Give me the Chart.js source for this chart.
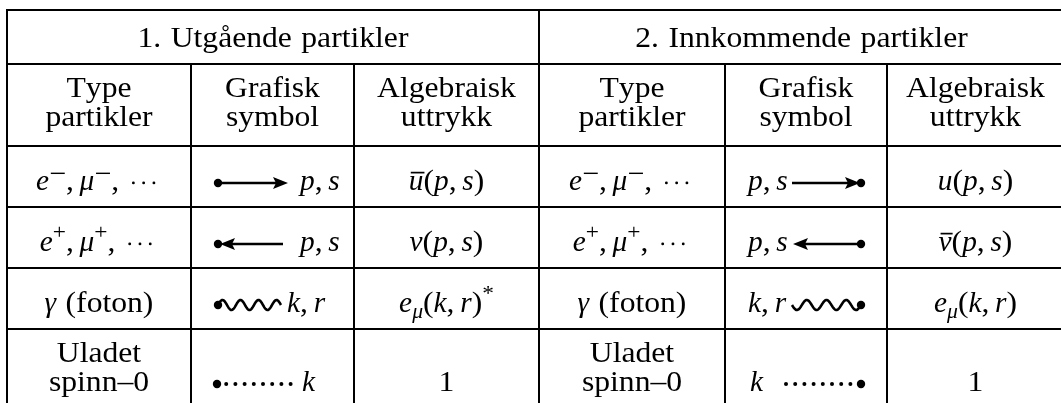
<!DOCTYPE html>
<html><head><meta charset="utf-8">
<script src="https://cdn.jsdelivr.net/npm/chart.js@4/dist/chart.umd.min.js"></script>
<style>html,body{margin:0;padding:0;background:#fff;}canvas{display:block}</style>
</head><body>
<canvas id="c" width="1061" height="403"></canvas>
<script>
// ---------- DATA ----------
const sectionTitles = ["1. Utgående partikler", "2. Innkommende partikler"];
const columnHeads = [["Type", "partikler"], ["Grafisk", "symbol"], ["Algebraisk", "uttrykk"]];
const particleTypes = ["$e^{−}, \\mu^{−}, \\cdots$", "$e^{+}, \\mu^{+}, \\cdots$", "$\\gamma$ (foton)", "Uladet\nspinn–0"];
const symbolKinds = ["fermion", "antifermion", "photon", "scalar"];
const momentumLabels = ["$p, s$", "$p, s$", "$k, r$", "$k$"];
const outgoingFactors = ["$\\bar{u}(p, s)$", "$v(p, s)$", "$e_{\\mu}(k, r)^{*}$", "$1$"];
const incomingFactors = ["$u(p, s)$", "$\\bar{v}(p, s)$", "$e_{\\mu}(k, r)$", "$1$"];

// ---------- LAYOUT ----------
const colEdges = [7, 191, 354, 539, 725, 887, 1064];
const rowEdges = [10, 64, 146, 207, 268, 329, 403];
const FAMILY = '"Liberation Serif", "Times New Roman", serif';
const FS = 28.5;      // font size
const SX_R = 1.11;    // horizontal stretch for upright text (Computer Modern is wider)
const SX_I = 1.03;    // stretch for italic (math) text
const GRID_W = 2;

const CMDS = { mu: "μ", gamma: "γ", cdots: "···" };

function parseRich(str) {
  const out = [];
  let math = false;
  function readGroup(s, i) {
    if (s[i] === "{") {
      let depth = 1, j = i + 1;
      while (j < s.length && depth) { if (s[j] === "{") depth++; else if (s[j] === "}") depth--; j++; }
      return [s.slice(i + 1, j - 1), j];
    }
    return [s[i], i + 1];
  }
  function walk(s, level, bar) {
    let i = 0;
    while (i < s.length) {
      const c = s[i];
      if (c === "$") { math = !math; i++; continue; }
      if (c === "\\") {
        let j = i + 1; while (j < s.length && /[a-zA-Z]/.test(s[j])) j++;
        const name = s.slice(i + 1, j);
        if (name === "bar") { const [g, k] = readGroup(s, j); walk(g, level, true); i = k; continue; }
        const sym = CMDS[name] || name;
        out.push({ t: sym, it: math && name !== "cdots", lv: level, bar, cd: name === "cdots" });
        i = j; continue;
      }
      if (math && (c === "^" || c === "_")) {
        const [g, k] = readGroup(s, i + 1);
        walk(g, c === "^" ? 1 : -1, bar); i = k; continue;
      }
      out.push({ t: c, it: math && /[a-zA-Z]/.test(c), lv: level, bar, sp: c === " " ? (math ? "thin" : "word") : null });
      i++;
    }
  }
  walk(str, 0, false);
  return out;
}

function fontFor(seg, size) {
  const fs = seg.lv ? size * 0.74 : size;
  return (seg.it ? "italic " : "") + fs + "px " + FAMILY;
}
function sxFor(seg) { return seg.it ? SX_I : SX_R; }

function segWidth(ctx, seg, size) {
  ctx.font = fontFor(seg, size);
  if (seg.cd) return size * 1.3;
  if (seg.sp === "thin") return size * 0.2;
  if (seg.sp === "word") return size * 0.33;
  if (seg.t === "−") return size * 0.74 * 0.8;
  return ctx.measureText(seg.t).width * sxFor(seg);
}

function richWidth(ctx, segs, size) {
  return segs.reduce((a, s) => a + segWidth(ctx, s, size), 0);
}

function drawRich(ctx, str, x, baseline, align, size) {
  size = size || FS;
  const segs = parseRich(str);
  const w = richWidth(ctx, segs, size);
  let cx = align === "center" ? x - w / 2 : x;
  ctx.fillStyle = "#000";
  ctx.textBaseline = "alphabetic";
  ctx.textAlign = "left";
  for (const s of segs) {
    const sw = segWidth(ctx, s, size);
    const dy = s.lv === 1 ? -0.41 * size : s.lv === -1 ? 0.2 * size : 0;
    if (s.cd) {
      for (let k = 0; k < 3; k++) {
        ctx.beginPath();
        ctx.arc(cx + size * (0.3 + 0.36 * k), baseline - 0.25 * size, size * 0.05, 0, Math.PI * 2);
        ctx.fill();
      }
    } else if (s.t === "−") {
      const fs = size * 0.74;
      ctx.fillRect(cx + fs * 0.08, baseline + dy - fs * 0.27, fs * 0.66, Math.max(1.4, fs * 0.065));
    } else if (!s.sp) {
      ctx.font = fontFor(s, size);
      ctx.save();
      ctx.translate(cx, baseline + dy);
      ctx.scale(sxFor(s), 1);
      ctx.fillText(s.t, 0, 0);
      ctx.restore();
    }
    if (s.bar) {
      ctx.fillRect(cx + 2, baseline - 0.64 * size, sw - 1, 1.7);
    }
    cx += sw;
  }
  return w;
}

function dot(ctx, x, y, r) { ctx.beginPath(); ctx.arc(x, y, r, 0, Math.PI * 2); ctx.fill(); }
function head(ctx, tipX, y, dir) {
  const L = 15, H = 6;
  ctx.beginPath();
  ctx.moveTo(tipX, y);
  ctx.lineTo(tipX - dir * L, y - H);
  ctx.lineTo(tipX - dir * L + dir * 3, y);
  ctx.lineTo(tipX - dir * L, y + H);
  ctx.closePath();
  ctx.fill();
}
function wave(ctx, x0, x1, y, phase) {
  const periods = 3.5, A = 5;
  ctx.beginPath();
  const n = 160;
  for (let i = 0; i <= n; i++) {
    const t = i / n;
    const x = x0 + (x1 - x0) * t;
    const yy = y - phase * A * Math.sin(Math.PI * 2 * periods * t);
    if (i === 0) ctx.moveTo(x, yy); else ctx.lineTo(x, yy);
  }
  ctx.stroke();
}

const DOT_R = 4.2, SMALL_R = 2.0;

// draw a propagator symbol for kind, inside a cell starting at L, at axis y
function drawSymbol(ctx, kind, incoming, L, y, label, baseline, px) {
  ctx.fillStyle = "#000"; ctx.strokeStyle = "#000"; ctx.lineWidth = 2.6; ctx.lineCap = "butt";
  if (!incoming) {
    const d0 = px(L + 27);
    if (kind === "fermion") {
      const e = px(L + 97);
      ctx.beginPath(); ctx.moveTo(d0, y); ctx.lineTo(e - 8, y); ctx.stroke();
      head(ctx, e, y, 1); dot(ctx, d0, y, DOT_R);
      drawRich(ctx, label, px(L + 109), baseline, "left");
    } else if (kind === "antifermion") {
      const e = px(L + 92);
      ctx.beginPath(); ctx.moveTo(d0 + 8, y); ctx.lineTo(e, y); ctx.stroke();
      head(ctx, d0 + 2, y, -1); dot(ctx, d0, y, DOT_R);
      drawRich(ctx, label, px(L + 109), baseline, "left");
    } else if (kind === "photon") {
      wave(ctx, d0, px(L + 90), y, 1); dot(ctx, d0, y, DOT_R);
      drawRich(ctx, label, px(L + 96), baseline, "left");
    } else {
      dot(ctx, px(L + 26), y, DOT_R);
      for (let k = 1; k <= 8; k++) dot(ctx, px(L + 26 + k * 9.2), y, SMALL_R);
      drawRich(ctx, label, px(L + 111), baseline, "left");
    }
  } else {
    const dE = px(L + 136);
    if (kind === "fermion") {
      drawRich(ctx, label, px(L + 23), baseline, "left");
      ctx.beginPath(); ctx.moveTo(px(L + 67), y); ctx.lineTo(dE - 8, y); ctx.stroke();
      head(ctx, dE - 1, y, 1); dot(ctx, dE, y, DOT_R);
    } else if (kind === "antifermion") {
      drawRich(ctx, label, px(L + 23), baseline, "left");
      ctx.beginPath(); ctx.moveTo(px(L + 76), y); ctx.lineTo(dE, y); ctx.stroke();
      head(ctx, px(L + 68), y, -1); dot(ctx, dE, y, DOT_R);
    } else if (kind === "photon") {
      drawRich(ctx, label, px(L + 23), baseline, "left");
      wave(ctx, px(L + 67), dE, y, -1); dot(ctx, dE, y, DOT_R);
    } else {
      drawRich(ctx, label, px(L + 25), baseline, "left");
      for (let k = 0; k < 8; k++) dot(ctx, px(L + 61 + k * 9.2), y, SMALL_R);
      dot(ctx, dE, y, DOT_R);
    }
  }
}

const tablePlugin = {
  id: "tablePlugin",
  afterDraw(chart) {
    const ctx = chart.ctx;
    const xs = chart.scales.x, ys = chart.scales.y;
    const px = v => xs.getPixelForValue(v);
    const py = v => ys.getPixelForValue(v);
    ctx.save();
    ctx.fillStyle = "#000";
    const hline = (y, x0, x1) => ctx.fillRect(px(x0), py(y) - GRID_W / 2, px(x1) - px(x0), GRID_W);
    const vline = (x, y0, y1) => ctx.fillRect(px(x) - GRID_W / 2, py(y0) - GRID_W / 2, GRID_W, py(y1) - py(y0) + GRID_W / 2);
    for (let r = 0; r < rowEdges.length - 1; r++) hline(rowEdges[r], colEdges[0] - 1, 1061);
    vline(colEdges[0], rowEdges[0], rowEdges[6]);
    vline(colEdges[3], rowEdges[0], rowEdges[6]);
    [1, 2, 4, 5].forEach(c => vline(colEdges[c], rowEdges[1], rowEdges[6]));

    const cc = c => (px(colEdges[c]) + px(colEdges[c + 1])) / 2;
    drawRich(ctx, sectionTitles[0], (px(colEdges[0]) + px(colEdges[3])) / 2, py(rowEdges[0]) + 37, "center");
    drawRich(ctx, sectionTitles[1], (px(colEdges[3]) + px(colEdges[6])) / 2, py(rowEdges[0]) + 37, "center");
    for (let s = 0; s < 2; s++) {
      columnHeads.forEach((h, i) => {
        const c = s * 3 + i;
        drawRich(ctx, h[0], cc(c), py(rowEdges[1]) + 33, "center");
        drawRich(ctx, h[1], cc(c), py(rowEdges[1]) + 62, "center");
      });
    }
    for (let r = 0; r < particleTypes.length; r++) {
      const top = py(rowEdges[r + 2]);
      const last = r === particleTypes.length - 1;
      const base = last ? top + 62 : top + 44;
      const axis = base - 7;
      for (let s = 0; s < 2; s++) {
        const lines = particleTypes[r].split("\n");
        if (lines.length === 2) {
          drawRich(ctx, lines[0], cc(s * 3), base - 29, "center");
          drawRich(ctx, lines[1], cc(s * 3), base, "center");
        } else drawRich(ctx, lines[0], cc(s * 3), base, "center");
        drawSymbol(ctx, symbolKinds[r], s === 1, colEdges[s * 3 + 1], axis, momentumLabels[r], base, px);
        drawRich(ctx, (s === 0 ? outgoingFactors : incomingFactors)[r], cc(s * 3 + 2), base, "center");
      }
    }
    ctx.restore();
  }
};

new Chart(document.getElementById("c"), {
  type: "scatter",
  data: { datasets: [{ data: [], pointRadius: 0 }] },
  options: {
    responsive: false, animation: false, devicePixelRatio: 1,
    layout: { padding: 0 },
    plugins: { legend: { display: false }, tooltip: { enabled: false } },
    scales: {
      x: { type: "linear", min: 0, max: 1061, display: false },
      y: { type: "linear", min: 0, max: 403, reverse: true, display: false }
    }
  },
  plugins: [tablePlugin]
});
</script>
</body></html>
